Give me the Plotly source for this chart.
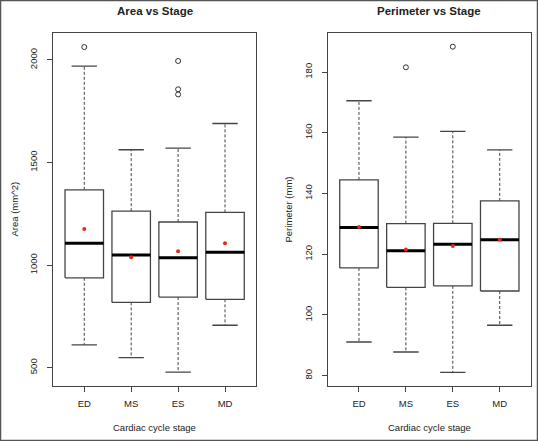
import plotly.graph_objects as go

# ---------------- data ----------------
stages = ["ED", "MS", "ES", "MD"]

area_q1 = [938, 818, 844, 833]
area_med = [1106, 1049, 1036, 1062]
area_q3 = [1367, 1263, 1210, 1257]
area_lo = [611, 549, 478, 707]
area_hi = [1970, 1562, 1570, 1690]
area_mean = [1176, 1038, 1068, 1106]
area_out_stage = ["ED", "ES", "ES", "ES"]
area_out = [2063, 1995, 1857, 1832]

perim_q1 = [115.5, 109.1, 109.6, 107.9]
perim_med = [128.8, 121.2, 123.3, 124.8]
perim_q3 = [144.5, 130.1, 130.2, 137.6]
perim_lo = [91.1, 87.8, 81.1, 96.6]
perim_hi = [170.6, 158.6, 160.5, 154.4]
perim_mean = [129.0, 121.6, 122.7, 124.8]
perim_out_stage = ["MS", "ES"]
perim_out = [181.6, 188.4]

area_ticks = [500, 1000, 1500, 2000]
perim_ticks = [80, 100, 120, 140, 160, 180]

# ---------------- style ----------------
FONT = "Liberation Sans, Arial, sans-serif"
BOXC = "#444444"
HALF = 0.41     # box half width (category units)
CAP = 0.27      # staple half width

fig = go.Figure()


def add_panel(xa, ya, q1, med, q3, lo, hi, mean, out_stage, out):
    pos = {s: i + 1 for i, s in enumerate(stages)}
    bx, by, mx, my, wx, wy, cx, cy = [], [], [], [], [], [], [], []
    for i, s in enumerate(stages):
        p = pos[s]
        bx += [p - HALF, p + HALF, p + HALF, p - HALF, p - HALF, None]
        by += [q1[i], q1[i], q3[i], q3[i], q1[i], None]
        mx += [p - HALF, p + HALF, None]
        my += [med[i], med[i], None]
        wx += [p, p, None, p, p, None]
        wy += [q3[i], hi[i], None, q1[i], lo[i], None]
        cx += [p - CAP, p + CAP, None, p - CAP, p + CAP, None]
        cy += [hi[i], hi[i], None, lo[i], lo[i], None]
    common = dict(xaxis=xa, yaxis=ya, showlegend=False, hoverinfo="skip")
    fig.add_trace(go.Scatter(x=wx, y=wy, mode="lines",
                             line=dict(color=BOXC, width=1, dash="3px,2px"), **common))
    fig.add_trace(go.Scatter(x=cx, y=cy, mode="lines",
                             line=dict(color=BOXC, width=1.4), **common))
    fig.add_trace(go.Scatter(x=bx, y=by, mode="lines", fill="toself", fillcolor="white",
                             line=dict(color=BOXC, width=1.3), **common))
    fig.add_trace(go.Scatter(x=mx, y=my, mode="lines",
                             line=dict(color="black", width=3), **common))
    fig.add_trace(go.Scatter(x=[pos[s] for s in stages], y=mean, mode="markers",
                             marker=dict(color="#e8281e", size=4), **common))
    fig.add_trace(go.Scatter(x=[pos[s] for s in out_stage], y=out, mode="markers",
                             marker=dict(symbol="circle-open", color="#333", size=5,
                                         line=dict(width=1)), **common))


add_panel("x", "y", area_q1, area_med, area_q3, area_lo, area_hi, area_mean,
          area_out_stage, area_out)
add_panel("x2", "y2", perim_q1, perim_med, perim_q3, perim_lo, perim_hi, perim_mean,
          perim_out_stage, perim_out)

W, H = 538, 441
ydom = [1 - 385.7 / H, 1 - 33.3 / H]

xcommon = dict(range=[0.34, 4.66], tickmode="array",
               tickvals=[1, 2, 3, 4], ticktext=stages,
               ticks="outside", ticklen=5, tickcolor=BOXC, tickwidth=1,
               showline=True, mirror=True, linecolor=BOXC, linewidth=1.2,
               showgrid=False, zeroline=False, ticklabelstandoff=4,
               tickfont=dict(family=FONT, size=9.5, color="#222"))
ycommon = dict(ticks="outside", ticklen=5, tickcolor=BOXC, tickwidth=1,
               showline=True, mirror=True, linecolor=BOXC, linewidth=1.2,
               showgrid=False, zeroline=False, tickangle=-90, ticklabelstandoff=6,
               tickfont=dict(family=FONT, size=9.5, color="#222"))

fig.update_layout(
    width=W, height=H,
    margin=dict(l=0, r=0, t=0, b=0),
    paper_bgcolor="white", plot_bgcolor="white",
    xaxis=dict(domain=[53.3 / W, 256 / W], anchor="y", **xcommon),
    yaxis=dict(domain=ydom, anchor="x", range=[412, 2130],
               tickvals=area_ticks, **ycommon),
    xaxis2=dict(domain=[328 / W, 530.7 / W], anchor="y2", **xcommon),
    yaxis2=dict(domain=ydom, anchor="x2", range=[76.7, 192.8],
                tickvals=perim_ticks, **ycommon),
)

ann = [
    dict(text="<b>Area vs Stage</b>", x=154.7 / W, y=1 - 11 / H, size=11.5),
    dict(text="<b>Perimeter vs Stage</b>", x=429.3 / W, y=1 - 11 / H, size=11.5),
    dict(text="Cardiac cycle stage", x=154.7 / W, y=1 - 427 / H, size=9.5),
    dict(text="Cardiac cycle stage", x=429.3 / W, y=1 - 427 / H, size=9.5),
    dict(text="Area (mm^2)", x=14 / W, y=1 - 209.5 / H, size=9.5, angle=-90),
    dict(text="Perimeter (mm)", x=288 / W, y=1 - 209.5 / H, size=9.5, angle=-90),
]
for a in ann:
    fig.add_annotation(text=a["text"], x=a["x"], y=a["y"], xref="paper", yref="paper",
                       xanchor="center", yanchor="middle", showarrow=False,
                       textangle=a.get("angle", 0),
                       font=dict(family=FONT, size=a["size"], color="#222"))

# outer frame of the figure
fig.add_shape(type="rect", xref="paper", yref="paper", x0=0, y0=0, x1=1, y1=1,
              line=dict(color="#555", width=2.5), fillcolor="rgba(0,0,0,0)")

fig.write_html("out.html",
               config={"displayModeBar": False, "staticPlot": True},
               post_script="document.body.style.margin='0px';"
                           "document.body.style.overflow='hidden';")
